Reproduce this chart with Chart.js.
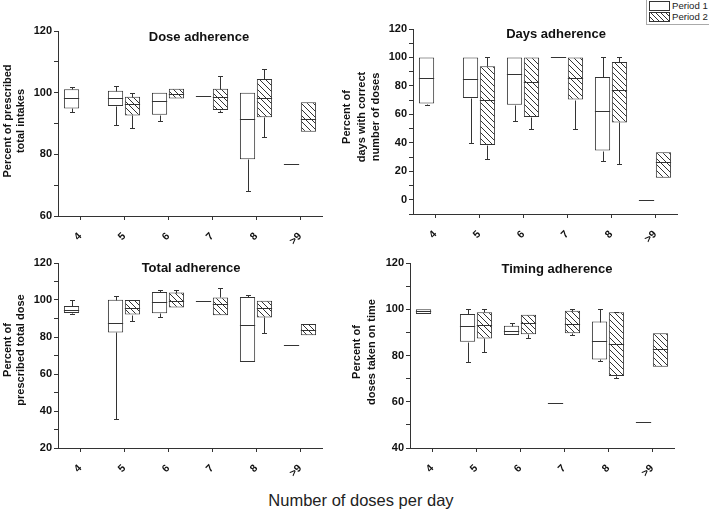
<!DOCTYPE html>
<html>
<head>
<meta charset="utf-8">
<script src="https://cdn.jsdelivr.net/npm/chart.js@4.4.1/dist/chart.umd.min.js"></script>
<style>
  body { margin: 0; background: #fff; font-family: "Liberation Sans", Arial, sans-serif; }
  #wrap { position: relative; width: 709px; height: 512px; overflow: hidden; }
  canvas { position: absolute; }
  #legend {
    position: absolute; left: 646px; top: 0; width: 63px; height: 24px;
    border: 1px solid #aaa; border-top: none; border-right: none; background: #fff;
    font-size: 9.6px; color: #222;
  }
  .row { position: absolute; left: 2px; height: 10px; line-height: 10px; white-space: nowrap; }
  .sw { display: inline-block; width: 19px; height: 8px; border: 1px solid #333; vertical-align: top; margin-right: 2px; }
  .hatch { background: repeating-linear-gradient(45deg, #fff 0 2.5px, #333 2.5px 3.5px); }
  #xlabel { position: absolute; left: 0; width: 722px; top: 491px; text-align: center; font-size: 16.5px; color: #222; }
</style>
</head>
<body>
<div id="wrap">
  <canvas id="dose" width="330" height="250" style="left:0;top:0"></canvas>
  <canvas id="days" width="379" height="250" style="left:330px;top:0"></canvas>
  <canvas id="total" width="330" height="235" style="left:0;top:250px"></canvas>
  <canvas id="timing" width="379" height="235" style="left:330px;top:250px"></canvas>
  <div id="legend">
    <div class="row" style="top:1px"><span class="sw"></span>Period 1</div>
    <div class="row" style="top:12px"><span class="sw hatch"></span>Period 2</div>
  </div>
  <div id="xlabel">Number of doses per day</div>
</div>
<script>
// Categories (number of doses per day)
const categories = ['4', '5', '6', '7', '8', '>9'];

// Box stats per category: [min, q1, median, q3, max]
const doseP1 = [[93.8, 94.9, 98.4, 101.1, 101.9], [89.4, 95.7, 98.2, 100.6, 102.3], [90.9, 92.8, 97.4, 100, 100], [98.9, 98.9, 98.9, 98.9, 98.9], [68.2, 78.4, 91.4, 100, 100], [76.9, 76.9, 76.9, 76.9, 76.9]];
const doseP2 = [null, [88.5, 92.6, 96.2, 98.7, 100], [98.1, 98.1, 99.6, 101.3, 101.3], [93.8, 94.4, 98.7, 101.3, 105.5], [85.5, 92, 98.4, 104.4, 107.7], [87.3, 87.3, 91.4, 96.9, 96.9]];

const daysP1 = [[66.7, 67.6, 85.4, 100, 100], [40, 71.6, 84.9, 100, 100], [55.4, 66.7, 88.7, 100, 100], [100, 100, 100, 100, 100], [26.9, 34.6, 62.5, 86.3, 100], [0, 0, 0, 0, 0]];
const daysP2 = [null, [28.3, 38.4, 69.9, 93.8, 100], [50, 58.2, 83, 100, 100], [50, 70.4, 85.4, 100, 100], [25, 54.3, 77.2, 96.8, 100], [15.4, 15.4, 26.4, 33.4, 33.4]];

const totalP1 = [[92.4, 93, 94.8, 96.8, 99.8], [35.9, 82.5, 87.6, 100.2, 102], [90.6, 92.8, 99.1, 104.3, 105.6], [99.3, 99.3, 99.3, 99.3, 99.3], [66.5, 66.5, 86.7, 101.6, 102.9], [75.7, 75.7, 75.7, 75.7, 75.7]];
const totalP2 = [null, [88.5, 92.1, 95.7, 100, 100], [96, 96, 99.3, 104, 105.2], [91.7, 91.7, 97.8, 101.4, 106.5], [82.2, 90.6, 95.7, 99.6, 99.6], [80.9, 80.9, 84, 87, 87]];

const timingP1 = [[97.9, 97.9, 99.3, 100, 100], [77.3, 86, 92.8, 97.9, 100], [88.9, 88.9, 90.6, 92.9, 94.2], [59.5, 59.5, 59.5, 59.5, 59.5], [77.6, 78.3, 86.3, 94.7, 100], [51.3, 51.3, 51.3, 51.3, 51.3]];
const timingP2 = [null, [81.6, 87.4, 93.2, 98.7, 100], [87.4, 89.2, 94, 97.6, 97.6], [88.9, 89.6, 93.8, 99.3, 100], [70.1, 71.1, 84.8, 98.7, 99], [75.1, 75.1, 82.8, 89.6, 89.6]];

const FONT = '"Liberation Sans", Arial, sans-serif';
const INK = '#333';

// diagonal hatch for period 2
function makeHatch() {
  const s = 6;
  const c = document.createElement('canvas');
  c.width = s; c.height = s;
  const g = c.getContext('2d');
  g.fillStyle = '#fff';
  g.fillRect(0, 0, s, s);
  g.strokeStyle = '#333';
  g.lineWidth = 1;
  g.beginPath();
  g.moveTo(0, 0); g.lineTo(s, s);
  g.moveTo(-1, s - 1); g.lineTo(1, s + 1);
  g.moveTo(s - 1, -1); g.lineTo(s + 1, 1);
  g.stroke();
  return g.createPattern(c, 'repeat');
}
const hatch = makeHatch();

// whiskers, caps, medians, titles
const boxPlugin = {
  id: 'boxParts',
  afterDatasetsDraw(chart) {
    const ctx = chart.ctx;
    const y = chart.scales.y;
    ctx.save();
    ctx.strokeStyle = INK;
    ctx.lineWidth = 1;
    chart.data.datasets.forEach((ds, di) => {
      const meta = chart.getDatasetMeta(di);
      ds.stats.forEach((st, i) => {
        if (!st) return;
        const el = meta.data[i];
        const x = Math.round(el.x) + 0.5;
        const half = el.width / 2;
        const cap = 2.5;
        const [mn, q1, md, q3, mx] = st.map(v => Math.round(y.getPixelForValue(v)) + 0.5);
        ctx.beginPath();
        if (st[4] > st[3]) {
          ctx.moveTo(x, q3); ctx.lineTo(x, mx);
          ctx.moveTo(x - cap, mx); ctx.lineTo(x + cap, mx);
        }
        if (st[0] < st[1]) {
          ctx.moveTo(x, q1); ctx.lineTo(x, mn);
          ctx.moveTo(x - cap, mn); ctx.lineTo(x + cap, mn);
        }
        ctx.moveTo(el.x - half, md); ctx.lineTo(el.x + half, md);
        ctx.stroke();
      });
    });
    ctx.restore();
  },
  afterDraw(chart) {
    const o = chart.options.plugins.boxParts;
    const ctx = chart.ctx;
    ctx.save();
    ctx.fillStyle = '#111';
    ctx.textAlign = 'center';
    ctx.textBaseline = 'middle';
    ctx.font = 'bold 13px ' + FONT;
    ctx.fillText(o.title, o.titleX, o.titleY);
    ctx.font = 'bold 11px ' + FONT;
    o.yTitle.forEach((line, k) => {
      ctx.save();
      ctx.translate(o.yTitleX[k], o.yTitleY);
      ctx.rotate(-Math.PI / 2);
      ctx.fillText(line, 0, 0);
      ctx.restore();
    });
    ctx.restore();
  }
};

function makePanel(id, p1, p2, opt) {
  const toBox = arr => arr.map(s => (s ? [s[1], s[3]] : null));
  new Chart(document.getElementById(id), {
    type: 'bar',
    data: {
      labels: categories,
      datasets: [
        { label: 'Period 1', data: toBox(p1), stats: p1, backgroundColor: '#fff', borderColor: INK, borderWidth: 1, borderSkipped: false },
        { label: 'Period 2', data: toBox(p2), stats: p2, backgroundColor: hatch, borderColor: INK, borderWidth: 1, borderSkipped: false }
      ]
    },
    options: {
      responsive: false,
      animation: false,
      layout: { padding: { top: opt.padTop, right: opt.padRight, left: 0, bottom: 0 } },
      datasets: { bar: { categoryPercentage: 0.77, barPercentage: 0.9 } },
      plugins: {
        legend: { display: false },
        tooltip: { enabled: false },
        boxParts: opt.text
      },
      scales: {
        x: {
          afterFit: s => { s.height = opt.xHeight; },
          grid: { display: true, drawOnChartArea: false, offset: false, tickLength: 4, tickColor: INK },
          border: { display: true, color: INK, width: 1 },
          ticks: { color: '#111', font: { family: FONT, size: 10.5, weight: 'bold' }, minRotation: 45, maxRotation: 45, padding: 10 }
        },
        y: {
          min: opt.min, max: opt.max,
          afterFit: s => { s.width = opt.yWidth; },
          // major every 20, minor every 10
          afterBuildTicks: s => {
            const t = [];
            for (let v = opt.min; v <= opt.max; v += 10) t.push({ value: v });
            s.ticks = t;
          },
          grid: { display: true, drawOnChartArea: false, tickLength: 4, tickColor: INK },
          border: { display: true, color: INK, width: 1 },
          ticks: {
            color: '#111',
            padding: 2,
            autoSkip: false,
            font: { family: FONT, size: 11, weight: 'bold' },
            callback: v => (v % 20 === 0 ? v : '')
          }
        }
      }
    },
    plugins: [boxPlugin]
  });
}

makePanel('dose', doseP1, doseP2, {
  min: 60, max: 120, padTop: 31, padRight: 8, yWidth: 58, xHeight: 34,
  text: { title: 'Dose adherence', titleX: 199, titleY: 37, yTitle: ['Percent of prescribed', 'total intakes'], yTitleX: [8, 21], yTitleY: 121 }
});
makePanel('days', daysP1, daysP2, {
  min: -10, max: 120, padTop: 29, padRight: 32, yWidth: 83, xHeight: 36,
  text: { title: 'Days adherence', titleX: 226, titleY: 34, yTitle: ['Percent of', 'days with correct', 'number of doses'], yTitleX: [17, 32, 46], yTitleY: 117 }
});
makePanel('total', totalP1, totalP2, {
  min: 20, max: 120, padTop: 13, padRight: 8, yWidth: 58, xHeight: 37,
  text: { title: 'Total adherence', titleX: 191, titleY: 18, yTitle: ['Percent of', 'prescribed total dose'], yTitleX: [8, 21], yTitleY: 100 }
});
makePanel('timing', timingP1, timingP2, {
  min: 40, max: 120, padTop: 13, padRight: 35, yWidth: 80, xHeight: 37,
  text: { title: 'Timing adherence', titleX: 227, titleY: 19, yTitle: ['Percent of', 'doses taken on time'], yTitleX: [27, 42], yTitleY: 102 }
});
</script>
</body>
</html>
